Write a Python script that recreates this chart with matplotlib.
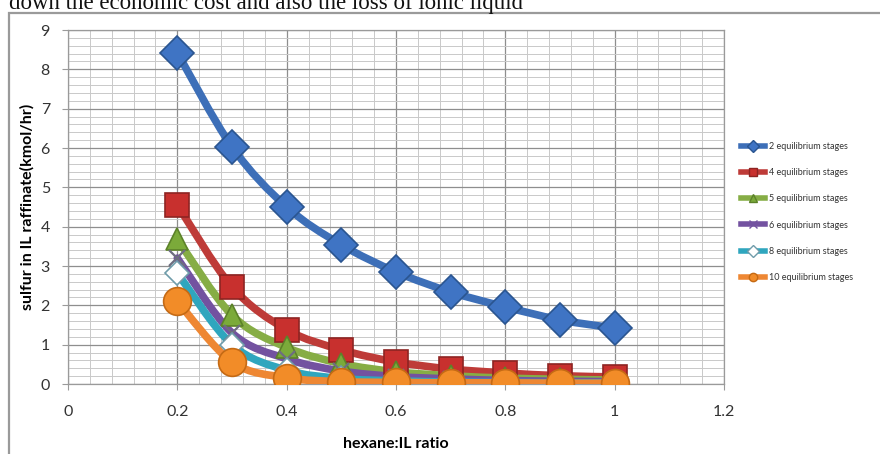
import matplotlib
matplotlib.use('Agg')
import matplotlib.pyplot as plt
import numpy as np
from matplotlib.path import Path
from matplotlib.patches import PathPatch, Rectangle
from matplotlib.lines import Line2D
from matplotlib.ticker import MultipleLocator

# --- data ---
ratio = [0.2, 0.3, 0.4, 0.5, 0.6, 0.7, 0.8, 0.9, 1.0]
stages_2 = [8.42, 6.03, 4.50, 3.54, 2.85, 2.34, 1.96, 1.63, 1.42]
stages_4 = [4.55, 2.47, 1.38, 0.87, 0.56, 0.38, 0.28, 0.21, 0.18]
stages_5 = [3.68, 1.75, 0.93, 0.52, 0.31, 0.21, 0.15, 0.12, 0.10]
stages_6 = [3.20, 1.30, 0.64, 0.33, 0.19, 0.13, 0.09, 0.07, 0.06]
stages_8 = [2.82, 1.00, 0.35, 0.14, 0.08, 0.05, 0.04, 0.03, 0.03]
stages_10 = [2.10, 0.56, 0.16, 0.06, 0.04, 0.03, 0.03, 0.02, 0.02]
labels = ['2 equilibrium stages', '4 equilibrium stages', '5 equilibrium stages',
          '6 equilibrium stages', '8 equilibrium stages', '10 equilibrium stages']

series = [stages_2, stages_4, stages_5, stages_6, stages_8, stages_10]
line_colors = ['#3D6FB8', '#BE3B38', '#86AD45', '#7352A0', '#2FA6BE', '#EE8733']
face_colors = ['#3F74C4', '#C8302E', '#7BAA3A', '#8064A2', '#FFFFFF', '#F28C28']
edge_colors = ['#2A5590', '#8E2422', '#5C8229', '#6E6E80', '#6F9CAA', '#C56A14']
markers = ['D', 's', '^', 'x', 'D', 'o']
msizes = [17, 17, 16, 12, 12, 20]


def smooth_path(x, y):
    # Catmull-Rom spline as cubic Bezier segments (Excel "smoothed line")
    pts = np.column_stack([x, y])
    verts = [pts[0]]
    codes = [Path.MOVETO]
    n = len(pts)
    for i in range(n - 1):
        p0 = pts[i - 1] if i > 0 else pts[i]
        p1 = pts[i]
        p2 = pts[i + 1]
        p3 = pts[i + 2] if i + 2 < n else pts[i + 1]
        c1 = p1 + (p2 - p0) / 6.0
        c2 = p2 - (p3 - p1) / 6.0
        verts += [c1, c2, p2]
        codes += [Path.CURVE4] * 3
    return Path(verts, codes)


plt.rcParams['font.family'] = ['Lato', 'DejaVu Sans']

fig = plt.figure(figsize=(8.8, 4.54), dpi=100)

# page text cut at the top and the frame around the chart
fig.text(0.010, 1.016, 'down the economic cost and also the loss of ionic liquid',
         family='Liberation Serif', fontsize=16.5, ha='left', va='top', color='#111111')
fig.patches.append(Rectangle((9 / 880, -0.05), 1.0, 0.05 + (454 - 13) / 454,
                             transform=fig.transFigure, fill=False,
                             edgecolor='#9A9A9A', linewidth=1.6))

ax = fig.add_axes([68 / 880, 70 / 454, 656 / 880, 354 / 454])
ax.set_xlim(0, 1.2)
ax.set_ylim(0, 9)
ax.xaxis.set_major_locator(MultipleLocator(0.2))
ax.xaxis.set_minor_locator(MultipleLocator(0.04))
ax.yaxis.set_major_locator(MultipleLocator(1))
ax.yaxis.set_minor_locator(MultipleLocator(0.2))
ax.grid(True, which='major', color='#8E8E8E', linewidth=0.9)
ax.grid(True, which='minor', color='#C9C9C9', linewidth=0.7)
ax.set_axisbelow(True)
for sp in ax.spines.values():
    sp.set_color('#9A9A9A')
    sp.set_linewidth(0.9)
ax.tick_params(which='major', length=4, color='#9A9A9A', labelsize=11.5,
               labelcolor='#333333')
ax.tick_params(axis='x', which='major', pad=11)
ax.tick_params(axis='y', which='major', pad=9)
ax.tick_params(which='minor', length=0)
ax.set_xticks(np.round(np.arange(0, 1.21, 0.2), 1))
ax.set_xticklabels(['0', '0.2', '0.4', '0.6', '0.8', '1', '1.2'])

for vals, lc in zip(series, line_colors):
    ax.add_patch(PathPatch(smooth_path(ratio, vals), facecolor='none', edgecolor=lc,
                           linewidth=5.5, capstyle='round', joinstyle='round', zorder=3))
for vals, fc, ec, m, ms in zip(series, face_colors, edge_colors, markers, msizes):
    if m == 'x':
        ax.plot(ratio, vals, linestyle='none', marker=m, markersize=ms,
                markeredgecolor=ec, markeredgewidth=1.6, zorder=4)
    else:
        ax.plot(ratio, vals, linestyle='none', marker=m, markersize=ms,
                markerfacecolor=fc, markeredgecolor=ec, markeredgewidth=1.2, zorder=4)

ax.set_xlabel('hexane:IL ratio', fontsize=11.5, fontweight='bold', labelpad=13)
ax.set_ylabel('sulfur in IL raffinate(kmol/hr)', fontsize=11.5, fontweight='bold', labelpad=4)

handles = [Line2D([], [], color=lc, linewidth=4, marker=m, markersize=6,
                  markerfacecolor=fc if m != 'x' else lc,
                  markeredgecolor=ec if m != 'x' else lc)
           for lc, fc, ec, m in zip(line_colors, face_colors, edge_colors, markers)]
fig.legend(handles, labels, loc='upper left', bbox_to_anchor=(733 / 880, 1 - 134 / 454),
           frameon=False, fontsize=6.5, handlelength=2.6, handletextpad=0.5,
           labelspacing=1.9, labelcolor='#333333')

fig.savefig('out.png', dpi=100)
